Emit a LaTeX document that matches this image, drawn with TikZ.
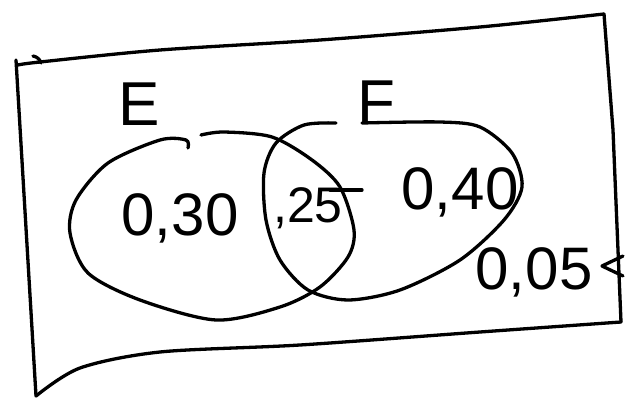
\documentclass[tikz,border=0pt]{standalone}
\usepackage{fontspec}
\setmainfont{Liberation Sans}
\tikzset{
  pen/.style={line width=3.3pt, line cap=round, line join=round},
  hand/.style={font=\fontsize{60}{60}\selectfont, inner sep=0pt},
  letter/.style={font=\fontsize{62}{62}\selectfont, inner sep=0pt}
}
\begin{document}
\begin{tikzpicture}[x=1pt, y=-1pt, line cap=round, line join=round]
  \useasboundingbox (0,0) rectangle (625,398);
  % sample space box
  \draw[pen] (33,56) to[bend left=30] (41,63);
  \draw[pen] plot[smooth] coordinates {(18,65) (40,62) (160,50) (320,40) (480,27) (604,14)};
  \draw[pen] (604,14) -- (613,130) -- (621,322);
  \draw[pen] plot[smooth] coordinates {(621,322) (480,332) (300,345) (160,352) (80,368) (36,396)};
  \draw[pen] (16,60) -- (36,396);
  \draw[pen] (623,256) -- (602,266) -- (623,276);
  % event E
  \draw[pen] plot[smooth] coordinates {(188,148) (186,140) (160,140) (108,163) (76,200) (70,233) (88,273)
    (140,300) (216,320) (280,307) (320,287) (348,257) (354,230) (340,187) (312,160)
    (272,137) (224,132) (201,135)};
  % event F
  \draw[pen] plot[smooth] coordinates {(336,123) (304,125) (276,143) (264,173) (266,220)
    (280,260) (308,290) (348,300) (400,290) (460,260) (504,220) (522,187) (512,153)
    (480,127) (440,122) (362,123)};
  % labels
  \node[letter, anchor=south west] (E) at (118,126) {E};
  \node[letter, anchor=south west] (F) at (357,124) {F};
  \node[hand] (pE) at (180,218) {0,30};
  \node[hand, font=\fontsize{50}{50}\selectfont] (pEF) at (308,208) {,25};
  \draw[pen] (330,190) -- (362,190);
  \node[hand] (pF) at (460,192) {0,40};
  \node[hand] (pN) at (534,272) {0,05};
\end{tikzpicture}
\end{document}
